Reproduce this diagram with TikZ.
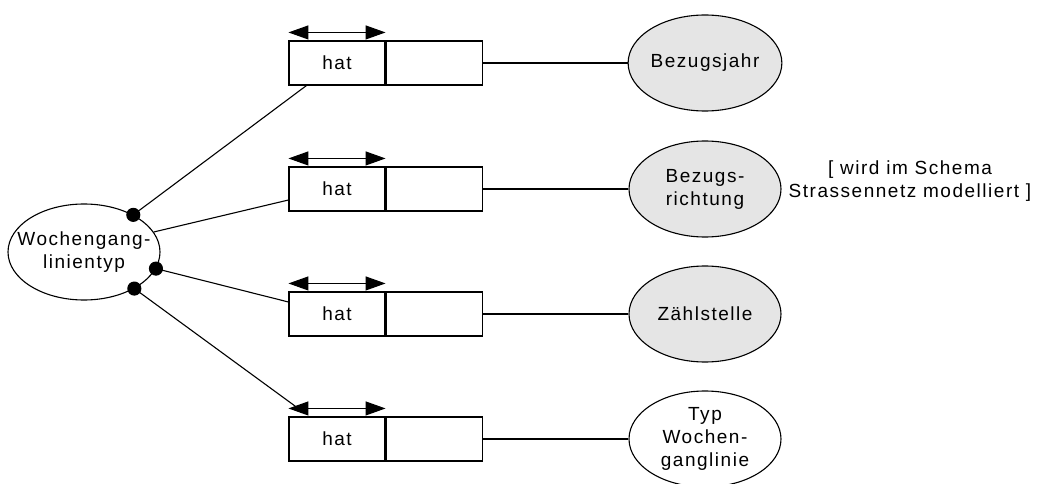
\documentclass[tikz,border=0pt]{standalone}
\usepackage{fontspec}
\setmainfont{Liberation Sans}[LetterSpace=8]
\usetikzlibrary{shapes.geometric,arrows.meta}
\tikzset{
	entity/.style={ellipse,draw,minimum width=152pt,minimum height=96pt,inner sep=0pt,align=center},
	weak/.style={entity,fill=black!10},
	relbox/.style={draw,minimum width=96pt,minimum height=44pt,inner sep=0pt},
	both/.style={{Triangle[length=20pt,width=14pt]}-{Triangle[length=20pt,width=14pt]}},
	every node/.style={font=\fontsize{19}{23}\selectfont},
}
\begin{document}
\begin{tikzpicture}[x=1pt,y=-1pt,line width=1.1pt]
		\useasboundingbox (0,0) rectangle (1050,484);
		\node[entity,label={[align=center]center:Wochengang-\\linientyp}] (wgl) at (84,252) {};
		\node[relbox] (hat1) at (337,63) {hat};
		\node[relbox,anchor=west] (slot1) at (hat1.east) {};
		\node[relbox] (hat2) at (337,189) {hat};
		\node[relbox,anchor=west] (slot2) at (hat2.east) {};
		\node[relbox] (hat3) at (337,314) {hat};
		\node[relbox,anchor=west] (slot3) at (hat3.east) {};
		\node[relbox] (hat4) at (337,439) {hat};
		\node[relbox,anchor=west] (slot4) at (hat4.east) {};
		\node[weak] (jahr) at (705,63) {Bezugsjahr};
		\node[weak] (richtung) at (705,189) {Bezugs-\\richtung};
		\node[weak] (zaehl) at (705,314) {Zählstelle};
		\node[entity] (typ) at (705,439) {Typ\\Wochen-\\ganglinie};
		\node[align=center] (note) at (910,181) {[ wird im Schema\\Strassennetz modelliert ]};
		\draw (wgl.37) -- ([xshift=18pt]hat1.south west);
		\draw (wgl.16) -- ([yshift=-11pt]hat2.west);
		\draw (wgl.-13) -- ([yshift=12pt]hat3.west);
		\draw (wgl.-36) -- ([xshift=14pt,yshift=5pt]hat4.north west);
		\filldraw (wgl.37) circle (6.5pt);
		\filldraw (wgl.-13) circle (6.5pt);
		\filldraw (wgl.-36) circle (6.5pt);
		\draw[both] ([yshift=8pt]hat1.north west) -- ([yshift=8pt]hat1.north east);
		\draw[both] ([yshift=8pt]hat2.north west) -- ([yshift=8pt]hat2.north east);
		\draw[both] ([yshift=8pt]hat3.north west) -- ([yshift=8pt]hat3.north east);
		\draw[both] ([yshift=8pt]hat4.north west) -- ([yshift=8pt]hat4.north east);
		\draw (slot1) -- (jahr);
		\draw (slot2) -- (richtung);
		\draw (slot3) -- (zaehl);
		\draw (slot4) -- (typ);
	\end{tikzpicture}
\end{document}
